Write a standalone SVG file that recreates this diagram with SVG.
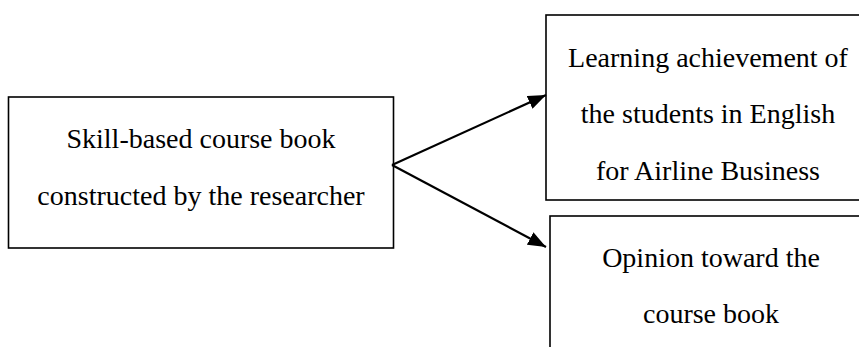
<svg xmlns="http://www.w3.org/2000/svg" width="859" height="347" viewBox="0 0 859 347">
<style>
.box{fill:#fff;stroke:#000;stroke-width:1.6}
.t{font-family:"Liberation Serif","Times New Roman",serif;font-size:28px;fill:#000;text-anchor:middle}
.c{stroke:#000;stroke-width:2.2;fill:none}
</style>
<defs>
<marker id="ah" markerWidth="18" markerHeight="14" refX="18" refY="7" orient="auto" markerUnits="userSpaceOnUse">
<path d="M0,0 L18,7 L0,14 Z" fill="#000"/>
</marker>
</defs>
<rect width="859" height="347" fill="#fff"/>
<g id="source">
<rect class="box" x="8.5" y="97" width="385" height="151"/>
<text class="t" x="201" y="148">Skill-based course book</text>
<text class="t" x="201" y="205">constructed by the researcher</text>
</g>
<g id="achievement">
<rect class="box" x="546" y="15" width="320" height="185"/>
<text class="t" x="708" y="67">Learning achievement of</text>
<text class="t" x="708" y="123">the students in English</text>
<text class="t" x="708" y="180">for Airline Business</text>
</g>
<g id="opinion">
<rect class="box" x="550" y="216" width="320" height="140"/>
<text class="t" x="711" y="267">Opinion toward the</text>
<text class="t" x="711" y="323">course book</text>
</g>
<g id="connectors">
<line class="c" x1="392" y1="165" x2="546" y2="95" marker-end="url(#ah)"/>
<line class="c" x1="392" y1="165" x2="546" y2="247" marker-end="url(#ah)"/>
</g>
</svg>
